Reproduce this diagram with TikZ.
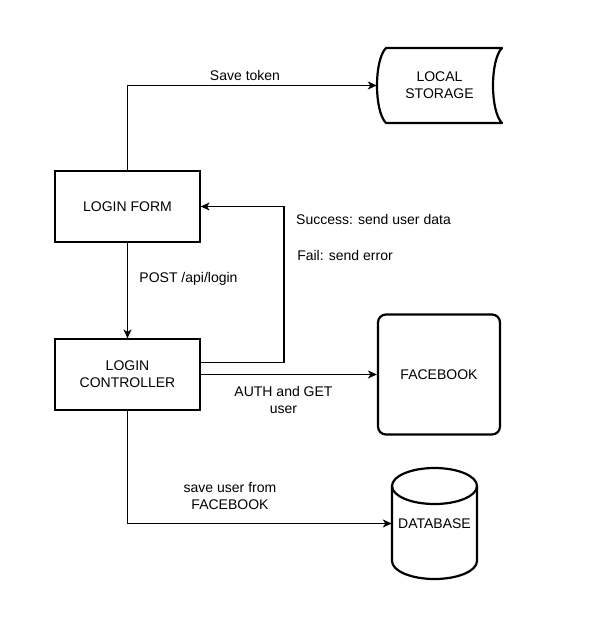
\documentclass[tikz,border=0pt]{standalone}
\usepackage{fontspec}
\setmainfont{Liberation Sans}
\usetikzlibrary{arrows.meta}
\begin{document}
\begin{tikzpicture}[x=1pt,y=-1pt,
  every node/.style={font=\fontsize{14}{17}\selectfont, align=center, inner sep=0pt},
  box/.style={draw, line width=1.2pt, minimum width=145pt, minimum height=71pt},
  ghost/.style={draw=none},
  thickline/.style={line width=2.2pt},
  conn/.style={line width=1.2pt, -{Stealth[length=9pt,width=8pt,inset=2.5pt]}},
  lbl/.style={fill=none}]
\useasboundingbox (0,0) rectangle (597,633);

% nodes
\node[box] (form) at (127.5,206.5) {LOGIN FORM};
\node[box] (ctrl) at (127.5,374.5) {LOGIN\\CONTROLLER};
\node[ghost, minimum width=125pt, minimum height=75pt] (storage) at (439.5,85.5) {LOCAL\\STORAGE};
\node[draw, thickline, rounded corners=8pt, minimum width=122pt, minimum height=120pt] (fb) at (439,374.5) {FACEBOOK};
\node[ghost, minimum width=85pt, minimum height=111pt] (db) at (434.5,523.5) {DATABASE};
\coordinate (ret) at (284,300);

% local storage shape
\draw[thickline, line join=round]
  (386,48) -- (502,48)
  .. controls (490,60) and (490,111) .. (502,123)
  -- (386,123)
  .. controls (374,111) and (374,60) .. (386,48) -- cycle;

% database cylinder
\draw[thickline] (434.5,486) ellipse [x radius=42.5pt, y radius=18pt];
\draw[thickline, line join=round] (392,486) -- (392,561)
  .. controls (392,570.94) and (411.03,579) .. (434.5,579)
  .. controls (457.97,579) and (477,570.94) .. (477,561) -- (477,486);

% connectors
\draw[conn] (form.north) |- (storage.west);
\draw[conn] (form.south) -- (ctrl.north);
\draw[conn] ([yshift=12pt]ctrl.east) -- ([yshift=12pt]ctrl.east -| ret) |- (form.east);
\draw[conn] (ctrl.east) -- (ctrl.east -| fb.west);
\draw[conn] (ctrl.south) |- (db.west);

% labels
\node[lbl] (l1) at (245,75.5) {Save token};
\node[lbl] (l2) at (373.5,219) {Success: send user data};
\node[lbl] (l3) at (345,255.5) {Fail: send error};
\node[lbl] (l4) at (188.5,279) {POST /api/login};
\node[lbl] (l5) at (283.5,399.5) {AUTH and GET\\user};
\node[lbl] (l6) at (230,496) {save user from\\FACEBOOK};
\end{tikzpicture}
\end{document}
